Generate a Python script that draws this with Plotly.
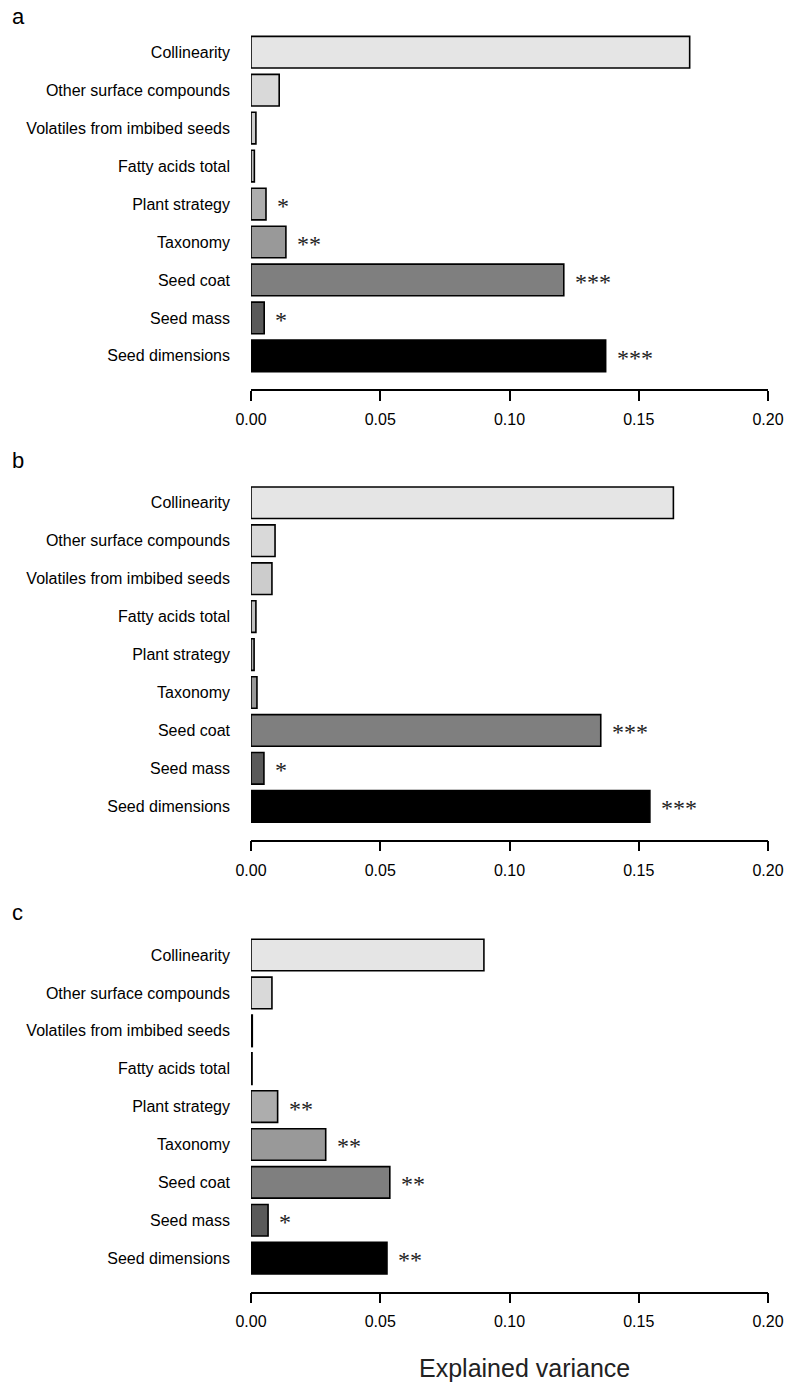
import plotly.graph_objects as go

categories = ["Collinearity", "Other surface compounds", "Volatiles from imbibed seeds",
              "Fatty acids total", "Plant strategy", "Taxonomy", "Seed coat",
              "Seed mass", "Seed dimensions"]
values_a = [0.1697, 0.0109, 0.0019, 0.0013, 0.0058, 0.0135, 0.1210, 0.0051, 0.1372]
values_b = [0.1634, 0.0093, 0.0081, 0.0019, 0.0012, 0.0023, 0.1353, 0.0050, 0.1543]
values_c = [0.0901, 0.0081, 0.0005, 0.0004, 0.0103, 0.0289, 0.0537, 0.0066, 0.0526]
stars_a = ["", "", "", "", "*", "**", "***", "*", "***"]
stars_b = ["", "", "", "", "", "", "***", "*", "***"]
stars_c = ["", "", "", "", "**", "**", "**", "*", "**"]
panel_labels = ["a", "b", "c"]
x_ticks = [0.0, 0.05, 0.10, 0.15, 0.20]
x_title = "Explained variance"

fills = ["#e5e5e5", "#d9d9d9", "#cccccc", "#bfbfbf", "#adadad",
         "#999999", "#7f7f7f", "#5a5a5a", "#000000"]

W, H = 788, 1385
# page-pixel extents of each panel's plot area (top, bottom)
panel_px = [(29.4, 389.3), (480.0, 839.7), (932.3, 1291.5)]
label_px = [17, 460, 912]
plot_left, plot_right = 251, 768


def py(p):
    return 1 - p / H


def px(p):
    return (p - plot_left) / (plot_right - plot_left)


fig = go.Figure()
panels = [(values_a, stars_a), (values_b, stars_b), (values_c, stars_c)]
annotations = []
for i, (vals, stars) in enumerate(panels):
    sfx = "" if i == 0 else str(i + 1)
    fig.add_trace(go.Bar(
        x=vals, y=categories, orientation="h",
        marker=dict(color=fills, line=dict(color="#000000", width=1.6)),
        width=0.833, xaxis="x" + sfx, yaxis="y" + sfx, showlegend=False,
        hoverinfo="x+y"))
    top, bot = panel_px[i]
    fig.layout["xaxis" + sfx] = dict(
        domain=[0, 1], anchor="y" + sfx, range=[0, 0.2],
        tickvals=x_ticks, tickformat=".2f", showgrid=False, zeroline=False,
        showline=True, linecolor="#000000", linewidth=1.5,
        ticks="outside", ticklen=10, tickwidth=1.5, tickcolor="#000000",
        ticklabelstandoff=5,
        tickfont=dict(family="Liberation Sans, Arial", size=16, color="#000000"))
    fig.layout["yaxis" + sfx] = dict(
        domain=[py(bot), py(top)], anchor="x" + sfx,
        type="category", categoryorder="array", categoryarray=categories[::-1],
        range=[-0.88, 8.6], showgrid=False, zeroline=False, showline=False,
        ticks="", ticklabelstandoff=20,
        tickfont=dict(family="Liberation Sans, Arial", size=16, color="#000000"))
    for cat, v, s in zip(categories, vals, stars):
        if s:
            annotations.append(dict(
                x=v, y=cat, xref="x" + sfx, yref="y" + sfx, text=s,
                showarrow=False, xanchor="left", yanchor="middle",
                xshift=9, yshift=-2,
                font=dict(family="Liberation Serif", size=24, color="#222222")))
    annotations.append(dict(
        x=px(10), y=py(label_px[i]), xref="paper", yref="paper",
        text=panel_labels[i], showarrow=False, xanchor="left", yanchor="middle",
        font=dict(family="Liberation Sans, Arial", size=22, color="#000000")))

annotations.append(dict(
    x=px(524), y=py(1367.7), xref="paper", yref="paper",
    text=x_title, showarrow=False, xanchor="center", yanchor="middle",
    font=dict(family="Liberation Sans, Arial", size=25, color="#222222")))

fig.update_layout(
    width=W, height=H,
    margin=dict(l=plot_left, r=W - plot_right, t=0, b=0),
    paper_bgcolor="#ffffff", plot_bgcolor="#ffffff",
    annotations=annotations, bargap=0.167)

fig.write_html(
    "out.html",
    config={"displayModeBar": False},
    post_script="document.body.style.margin='0';document.body.style.overflow='hidden';")
